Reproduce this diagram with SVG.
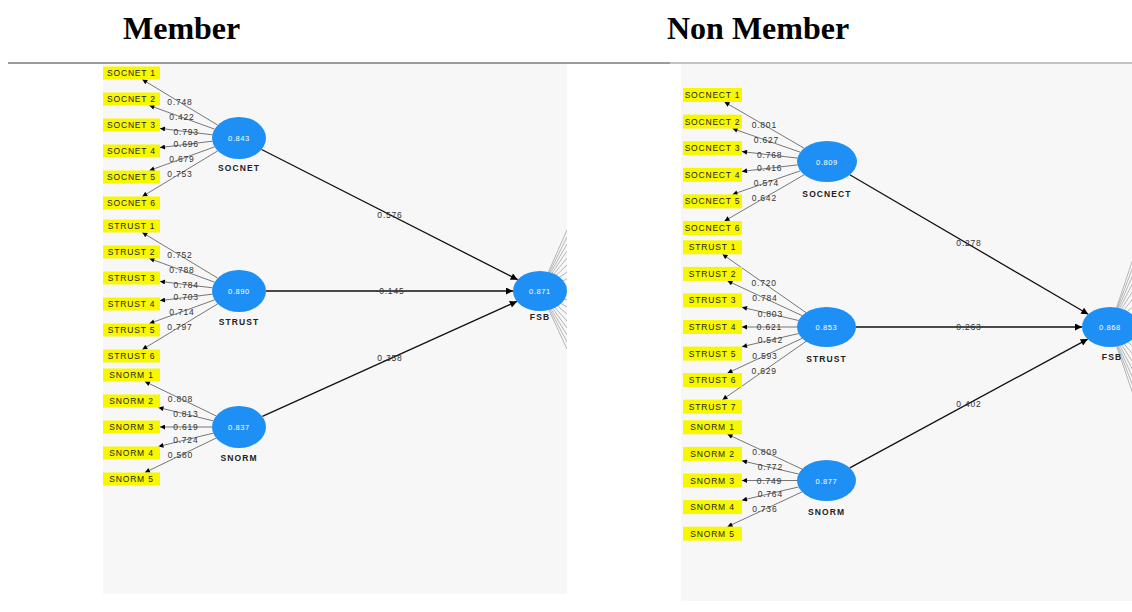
<svg xmlns="http://www.w3.org/2000/svg" width="1132" height="612" viewBox="0 0 1132 612">
<defs>
<style>
.title{font-family:"Liberation Serif","Times New Roman",serif;font-weight:bold;font-size:32px;fill:#000}
.bg{fill:#f7f7f7}
.ind rect{fill:#f7f700}
.ind text{font-family:"Liberation Sans",Arial,sans-serif;font-size:8.5px;letter-spacing:0.8px;fill:#222;text-anchor:middle}
.lv ellipse{fill:#1e90f5}
.lv .v{font-family:"Liberation Sans",Arial,sans-serif;font-size:7.5px;letter-spacing:0.6px;fill:#fff;text-anchor:middle}
.lv .n{font-family:"Liberation Sans",Arial,sans-serif;font-size:8.5px;font-weight:bold;letter-spacing:1.1px;fill:#222;text-anchor:middle}
.ld{stroke:#555;stroke-width:0.8;fill:none;marker-end:url(#ahs)}
.pth{stroke:#111;stroke-width:1.3;fill:none;marker-end:url(#ahl)}
.lbl{font-family:"Liberation Sans",Arial,sans-serif;font-size:8.5px;letter-spacing:0.8px;fill:#333;text-anchor:middle}
.fan{stroke:#8a8a8a;stroke-width:0.6}
</style>
<marker id="ahs" viewBox="0 0 10 10" refX="10" refY="5" markerWidth="7" markerHeight="5" markerUnits="userSpaceOnUse" orient="auto"><path d="M0,0L10,5L0,10z" fill="#000"/></marker>
<marker id="ahl" viewBox="0 0 10 10" refX="10" refY="5" markerWidth="10" markerHeight="7" markerUnits="userSpaceOnUse" orient="auto"><path d="M0,0L10,5L0,10z" fill="#000"/></marker>
<clipPath id="clipL"><rect x="103" y="64" width="464" height="530"/></clipPath>
<clipPath id="clipR"><rect x="681" y="64" width="451" height="537"/></clipPath>
</defs>

<rect width="1132" height="612" fill="#fff"/>
<text class="title" x="123" y="39">Member</text>
<text class="title" x="667" y="39">Non Member</text>
<rect class="bg" x="103" y="64" width="464" height="530"/>
<rect class="bg" x="681" y="64" width="451" height="537"/>
<line x1="8" y1="63" x2="670" y2="63" stroke="#7a7a7a" stroke-width="1.6"/>
<line x1="670" y1="63" x2="1132" y2="63" stroke="#8a8a8a" stroke-width="1"/>

<g id="fanL" clip-path="url(#clipL)">
<line class="fan" x1="540" y1="291" x2="567" y2="230"/><line class="fan" x1="540" y1="291" x2="567" y2="237"/>
<line class="fan" x1="540" y1="291" x2="567" y2="244"/><line class="fan" x1="540" y1="291" x2="567" y2="251"/>
<line class="fan" x1="540" y1="291" x2="567" y2="258"/><line class="fan" x1="540" y1="291" x2="567" y2="265"/>
<line class="fan" x1="540" y1="291" x2="567" y2="272"/><line class="fan" x1="540" y1="291" x2="567" y2="279"/>
<line class="fan" x1="540" y1="291" x2="567" y2="286"/><line class="fan" x1="540" y1="291" x2="567" y2="293"/>
<line class="fan" x1="540" y1="291" x2="567" y2="300"/><line class="fan" x1="540" y1="291" x2="567" y2="307"/>
<line class="fan" x1="540" y1="291" x2="567" y2="314"/><line class="fan" x1="540" y1="291" x2="567" y2="321"/>
<line class="fan" x1="540" y1="291" x2="567" y2="328"/><line class="fan" x1="540" y1="291" x2="567" y2="335"/>
<line class="fan" x1="540" y1="291" x2="567" y2="342"/><line class="fan" x1="540" y1="291" x2="567" y2="349"/>
</g>
<g id="fanR" clip-path="url(#clipR)">
<line class="fan" x1="1110" y1="327" x2="1136" y2="250"/><line class="fan" x1="1110" y1="327" x2="1136" y2="259"/>
<line class="fan" x1="1110" y1="327" x2="1136" y2="268"/><line class="fan" x1="1110" y1="327" x2="1136" y2="277"/>
<line class="fan" x1="1110" y1="327" x2="1136" y2="286"/><line class="fan" x1="1110" y1="327" x2="1136" y2="295"/>
<line class="fan" x1="1110" y1="327" x2="1136" y2="304"/><line class="fan" x1="1110" y1="327" x2="1136" y2="313"/>
<line class="fan" x1="1110" y1="327" x2="1136" y2="322"/><line class="fan" x1="1110" y1="327" x2="1136" y2="331"/>
<line class="fan" x1="1110" y1="327" x2="1136" y2="340"/><line class="fan" x1="1110" y1="327" x2="1136" y2="349"/>
<line class="fan" x1="1110" y1="327" x2="1136" y2="358"/><line class="fan" x1="1110" y1="327" x2="1136" y2="367"/>
<line class="fan" x1="1110" y1="327" x2="1136" y2="376"/><line class="fan" x1="1110" y1="327" x2="1136" y2="385"/>
<line class="fan" x1="1110" y1="327" x2="1136" y2="394"/><line class="fan" x1="1110" y1="327" x2="1136" y2="403"/>
</g>

<g id="connectors">
<line class="ld" x1="217.7" y1="125.1" x2="142.3" y2="79.5"/>
<line class="ld" x1="214.5" y1="129.1" x2="149.4" y2="105.5"/>
<line class="ld" x1="212.3" y1="134.8" x2="160" y2="128.4"/>
<line class="ld" x1="212.3" y1="141.2" x2="160" y2="147.6"/>
<line class="ld" x1="214.5" y1="146.9" x2="149.4" y2="170.5"/>
<line class="ld" x1="217.7" y1="150.9" x2="142.3" y2="196.5"/>
<line class="ld" x1="217.7" y1="278.1" x2="142.3" y2="232.5"/>
<line class="ld" x1="214.5" y1="282.1" x2="149.4" y2="258.5"/>
<line class="ld" x1="212.3" y1="287.8" x2="160" y2="281.4"/>
<line class="ld" x1="212.3" y1="294.2" x2="160" y2="300.6"/>
<line class="ld" x1="214.5" y1="299.9" x2="149.4" y2="323.5"/>
<line class="ld" x1="217.7" y1="303.9" x2="142.3" y2="349.5"/>
<line class="ld" x1="216.1" y1="415.9" x2="144.9" y2="381.5"/>
<line class="ld" x1="213.2" y1="420.8" x2="158.4" y2="407.5"/>
<line class="ld" x1="212" y1="427" x2="160" y2="427"/>
<line class="ld" x1="213.2" y1="433.2" x2="158.4" y2="446.5"/>
<line class="ld" x1="216.1" y1="438.1" x2="144.9" y2="472.5"/>
<line class="pth" x1="261.6" y1="149.5" x2="517.7" y2="279.7"/>
<line class="pth" x1="266" y1="291" x2="513" y2="291"/>
<line class="pth" x1="262.4" y1="416.4" x2="516.9" y2="301.4"/>

<line class="ld" x1="804.1" y1="148.2" x2="724.5" y2="102"/>
<line class="ld" x1="800.3" y1="152.2" x2="732.5" y2="128.6"/>
<line class="ld" x1="797.4" y1="158.1" x2="742" y2="151.6"/>
<line class="ld" x1="797.4" y1="164.9" x2="742" y2="171.4"/>
<line class="ld" x1="800.3" y1="170.8" x2="732.5" y2="194.4"/>
<line class="ld" x1="804.1" y1="174.8" x2="724.5" y2="221"/>
<line class="ld" x1="806" y1="312.6" x2="722.5" y2="254.3"/>
<line class="ld" x1="802.2" y1="315.7" x2="727.5" y2="280.9"/>
<line class="ld" x1="798.6" y1="320.5" x2="742" y2="307.3"/>
<line class="ld" x1="797" y1="327" x2="742" y2="327"/>
<line class="ld" x1="798.6" y1="333.5" x2="742" y2="346.7"/>
<line class="ld" x1="802.2" y1="338.3" x2="727.5" y2="373.1"/>
<line class="ld" x1="806" y1="341.4" x2="722.5" y2="399.7"/>
<line class="ld" x1="802" y1="469.1" x2="727.5" y2="434.3"/>
<line class="ld" x1="798.5" y1="474" x2="742" y2="460.8"/>
<line class="ld" x1="797" y1="480.5" x2="742" y2="480.5"/>
<line class="ld" x1="798.5" y1="487" x2="742" y2="500.2"/>
<line class="ld" x1="802" y1="491.9" x2="727.5" y2="526.7"/>
<line class="pth" x1="849.8" y1="174.8" x2="1088.3" y2="314.3"/>
<line class="pth" x1="856" y1="327" x2="1082" y2="327"/>
<line class="pth" x1="849.8" y1="467.9" x2="1087.7" y2="339.1"/>

<text class="lbl" x="180" y="105.3">0.748</text>
<text class="lbl" x="182" y="120.3">0.422</text>
<text class="lbl" x="186.2" y="134.6">0.793</text>
<text class="lbl" x="186.2" y="147.4">0.696</text>
<text class="lbl" x="182" y="161.7">0.679</text>
<text class="lbl" x="180" y="176.7">0.753</text>
<text class="lbl" x="180" y="258.3">0.752</text>
<text class="lbl" x="182" y="273.3">0.788</text>
<text class="lbl" x="186.2" y="287.6">0.784</text>
<text class="lbl" x="186.2" y="300.4">0.703</text>
<text class="lbl" x="182" y="314.7">0.714</text>
<text class="lbl" x="180" y="329.7">0.797</text>
<text class="lbl" x="180.5" y="401.7">0.808</text>
<text class="lbl" x="185.8" y="417.2">0.813</text>
<text class="lbl" x="186" y="430">0.619</text>
<text class="lbl" x="185.8" y="442.8">0.724</text>
<text class="lbl" x="180.5" y="458.3">0.580</text>
<text class="lbl" x="390" y="218">0.576</text>
<text class="lbl" x="390" y="294">-0.145</text>
<text class="lbl" x="390" y="361">0.358</text>

<text class="lbl" x="764.3" y="128.1">0.801</text>
<text class="lbl" x="766.4" y="143.4">0.627</text>
<text class="lbl" x="769.7" y="157.9">0.768</text>
<text class="lbl" x="769.7" y="171.1">0.416</text>
<text class="lbl" x="766.4" y="185.6">0.574</text>
<text class="lbl" x="764.3" y="200.9">0.642</text>
<text class="lbl" x="764.2" y="286.4">0.720</text>
<text class="lbl" x="764.9" y="301.3">0.784</text>
<text class="lbl" x="770.3" y="316.9">0.803</text>
<text class="lbl" x="769.5" y="330">0.621</text>
<text class="lbl" x="770.3" y="343.1">0.542</text>
<text class="lbl" x="764.9" y="358.7">0.593</text>
<text class="lbl" x="764.2" y="373.6">0.629</text>
<text class="lbl" x="764.8" y="454.7">0.809</text>
<text class="lbl" x="770.3" y="470.4">0.772</text>
<text class="lbl" x="769.5" y="483.5">0.749</text>
<text class="lbl" x="770.3" y="496.6">0.764</text>
<text class="lbl" x="764.8" y="512.3">0.736</text>
<text class="lbl" x="969" y="246">0.278</text>
<text class="lbl" x="969" y="330">0.263</text>
<text class="lbl" x="969" y="407">0.402</text>
</g>

<g id="m-socnet1" class="ind"><rect x="103" y="66.5" width="57" height="13"/><text x="131.5" y="76">SOCNET 1</text></g>
<g id="m-socnet2" class="ind"><rect x="103" y="92.5" width="57" height="13"/><text x="131.5" y="102">SOCNET 2</text></g>
<g id="m-socnet3" class="ind"><rect x="103" y="118.5" width="57" height="13"/><text x="131.5" y="128">SOCNET 3</text></g>
<g id="m-socnet4" class="ind"><rect x="103" y="144.5" width="57" height="13"/><text x="131.5" y="154">SOCNET 4</text></g>
<g id="m-socnet5" class="ind"><rect x="103" y="170.5" width="57" height="13"/><text x="131.5" y="180">SOCNET 5</text></g>
<g id="m-socnet6" class="ind"><rect x="103" y="196.5" width="57" height="13"/><text x="131.5" y="206">SOCNET 6</text></g>
<g id="m-strust1" class="ind"><rect x="103" y="219.5" width="57" height="13"/><text x="131.5" y="229">STRUST 1</text></g>
<g id="m-strust2" class="ind"><rect x="103" y="245.5" width="57" height="13"/><text x="131.5" y="255">STRUST 2</text></g>
<g id="m-strust3" class="ind"><rect x="103" y="271.5" width="57" height="13"/><text x="131.5" y="281">STRUST 3</text></g>
<g id="m-strust4" class="ind"><rect x="103" y="297.5" width="57" height="13"/><text x="131.5" y="307">STRUST 4</text></g>
<g id="m-strust5" class="ind"><rect x="103" y="323.5" width="57" height="13"/><text x="131.5" y="333">STRUST 5</text></g>
<g id="m-strust6" class="ind"><rect x="103" y="349.5" width="57" height="13"/><text x="131.5" y="359">STRUST 6</text></g>
<g id="m-snorm1" class="ind"><rect x="103" y="368.5" width="57" height="13"/><text x="131.5" y="378">SNORM 1</text></g>
<g id="m-snorm2" class="ind"><rect x="103" y="394.5" width="57" height="13"/><text x="131.5" y="404">SNORM 2</text></g>
<g id="m-snorm3" class="ind"><rect x="103" y="420.5" width="57" height="13"/><text x="131.5" y="430">SNORM 3</text></g>
<g id="m-snorm4" class="ind"><rect x="103" y="446.5" width="57" height="13"/><text x="131.5" y="456">SNORM 4</text></g>
<g id="m-snorm5" class="ind"><rect x="103" y="472.5" width="57" height="13"/><text x="131.5" y="482">SNORM 5</text></g>

<g id="m-SOCNET" class="lv"><ellipse cx="239" cy="138" rx="27" ry="21"/><text class="v" x="239" y="140.7">0.843</text><text class="n" x="239" y="171">SOCNET</text></g>
<g id="m-STRUST" class="lv"><ellipse cx="239" cy="291" rx="27" ry="21"/><text class="v" x="239" y="293.7">0.890</text><text class="n" x="239" y="325">STRUST</text></g>
<g id="m-SNORM" class="lv"><ellipse cx="239" cy="427" rx="27" ry="21"/><text class="v" x="239" y="429.7">0.837</text><text class="n" x="239" y="461">SNORM</text></g>
<g id="m-FSB" class="lv" clip-path="url(#clipL)"><ellipse cx="540" cy="291" rx="27" ry="20"/><text class="v" x="540" y="293.7">0.871</text><text class="n" x="540" y="320">FSB</text></g>

<g id="n-socnect1" class="ind"><rect x="683" y="88" width="59" height="14"/><text x="712.5" y="98">SOCNECT 1</text></g>
<g id="n-socnect2" class="ind"><rect x="683" y="114.6" width="59" height="14"/><text x="712.5" y="124.6">SOCNECT 2</text></g>
<g id="n-socnect3" class="ind"><rect x="683" y="141.2" width="59" height="14"/><text x="712.5" y="151.2">SOCNECT 3</text></g>
<g id="n-socnect4" class="ind"><rect x="683" y="167.8" width="59" height="14"/><text x="712.5" y="177.8">SOCNECT 4</text></g>
<g id="n-socnect5" class="ind"><rect x="683" y="194.4" width="59" height="14"/><text x="712.5" y="204.4">SOCNECT 5</text></g>
<g id="n-socnect6" class="ind"><rect x="683" y="221" width="59" height="14"/><text x="712.5" y="231">SOCNECT 6</text></g>
<g id="n-strust1" class="ind"><rect x="683" y="240.3" width="59" height="14"/><text x="712.5" y="250.3">STRUST 1</text></g>
<g id="n-strust2" class="ind"><rect x="683" y="266.9" width="59" height="14"/><text x="712.5" y="276.9">STRUST 2</text></g>
<g id="n-strust3" class="ind"><rect x="683" y="293.4" width="59" height="14"/><text x="712.5" y="303.4">STRUST 3</text></g>
<g id="n-strust4" class="ind"><rect x="683" y="320" width="59" height="14"/><text x="712.5" y="330">STRUST 4</text></g>
<g id="n-strust5" class="ind"><rect x="683" y="346.6" width="59" height="14"/><text x="712.5" y="356.6">STRUST 5</text></g>
<g id="n-strust6" class="ind"><rect x="683" y="373.1" width="59" height="14"/><text x="712.5" y="383.1">STRUST 6</text></g>
<g id="n-strust7" class="ind"><rect x="683" y="399.7" width="59" height="14"/><text x="712.5" y="409.7">STRUST 7</text></g>
<g id="n-snorm1" class="ind"><rect x="683" y="420.3" width="59" height="14"/><text x="712.5" y="430.3">SNORM 1</text></g>
<g id="n-snorm2" class="ind"><rect x="683" y="446.9" width="59" height="14"/><text x="712.5" y="456.9">SNORM 2</text></g>
<g id="n-snorm3" class="ind"><rect x="683" y="473.5" width="59" height="14"/><text x="712.5" y="483.5">SNORM 3</text></g>
<g id="n-snorm4" class="ind"><rect x="683" y="500.1" width="59" height="14"/><text x="712.5" y="510.1">SNORM 4</text></g>
<g id="n-snorm5" class="ind"><rect x="683" y="526.7" width="59" height="14"/><text x="712.5" y="536.7">SNORM 5</text></g>

<g id="n-SOCNECT" class="lv"><ellipse cx="827" cy="161.5" rx="30" ry="20.5"/><text class="v" x="827" y="164.5">0.809</text><text class="n" x="827" y="197">SOCNECT</text></g>
<g id="n-STRUST" class="lv"><ellipse cx="826.5" cy="327" rx="29.5" ry="20"/><text class="v" x="826.5" y="330">0.853</text><text class="n" x="826.5" y="362">STRUST</text></g>
<g id="n-SNORM" class="lv"><ellipse cx="826.5" cy="480.5" rx="29.5" ry="20.5"/><text class="v" x="826.5" y="483.5">0.877</text><text class="n" x="826.5" y="515">SNORM</text></g>
<g id="n-FSB" class="lv"><ellipse cx="1110" cy="327" rx="28" ry="20"/><text class="v" x="1110" y="330">0.868</text><text class="n" x="1112" y="360">FSB</text></g>
</svg>
